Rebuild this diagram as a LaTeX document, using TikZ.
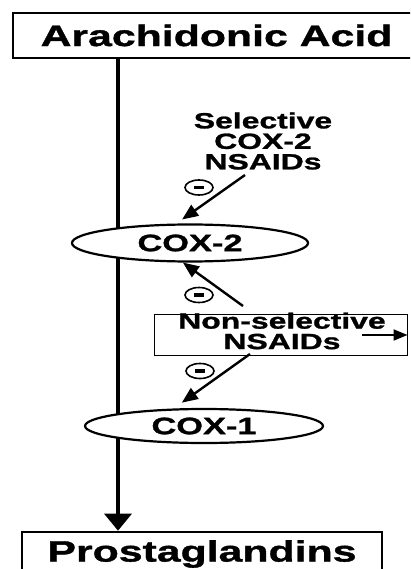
\documentclass[tikz,border=0pt]{standalone}
\usepackage{fontspec}
\newfontfamily\lblfont{Liberation Sans}[FakeStretch=1.45, BoldFeatures={FakeBold=1.2}]
\usetikzlibrary{arrows.meta,shapes.geometric}

\begin{document}
\begin{tikzpicture}[x=1pt, y=-1pt,
    box/.style={draw, rectangle, line width=2.6pt, inner sep=0pt,
        font=\lblfont\bfseries\fontsize{29.5}{30}\selectfont},
    enzyme/.style={draw, ellipse, line width=2.2pt, fill=white, inner sep=0pt,
        font=\lblfont\bfseries\fontsize{23.7}{24}\selectfont},
    drug/.style={align=center, inner sep=0pt,
        font=\lblfont\bfseries\fontsize{22}{20.5}\selectfont},
    inh/.style={-{Triangle[length=16pt,width=13pt]}, line width=2.4pt},
    minus/.style={draw, ellipse, line width=1.6pt, inner sep=0pt,
        minimum width=28pt, minimum height=15pt,
        path picture={\fill ([xshift=-5pt,yshift=-1.6pt]path picture bounding box.center)
            rectangle ([xshift=5pt,yshift=1.6pt]path picture bounding box.center);}}]

    \useasboundingbox (0,0) rectangle (410,569);
    \clip (0,0) rectangle (410,569);

    % Boxes at top and bottom
    \node[box, minimum width=407pt, minimum height=45pt] (acid) at (216.5,35.5) {Arachidonic Acid};
    \node[box, minimum width=360pt, minimum height=44pt] (pg) at (202,554) {Prostaglandins};

    % Main pathway
    \coordinate (stem) at (118,0);
    \draw[line width=3.5pt, -{Triangle[length=17pt,width=27pt]}] (acid.south -| stem) -- (pg.north -| stem);

    % Enzymes
    \node[enzyme, minimum width=236pt, minimum height=37pt] (cox2) at (190,243) {COX-2};
    \node[enzyme, minimum width=238pt, minimum height=34pt] (cox1) at (204,426) {COX-1};

    % Drugs
    \node[drug] (sel) at (263,141) {Selective\\COX-2\\NSAIDs};
    \node[draw, line width=1pt, inner sep=0pt, minimum width=253pt, minimum height=41pt] (nonsel) at (280.5,334.5) {};
    \node[drug] (nonseltxt) at (282,331) {Non-selective\\NSAIDs};

    % Inhibition arrows
    \coordinate (s1) at (245,175);
    \coordinate (s2) at (243,306);
    \coordinate (s3) at (250,354);
    \coordinate (s4) at (362,335);
    \draw[inh, shorten >=7pt] (s1) -- (cox2.125);
    \draw[inh] (s2) -- (cox2.250);
    \draw[inh, shorten >=10pt] (s3) -- (cox1.150);
    \draw[-{Triangle[length=14pt,width=11pt]}, line width=2pt] (s4) -- (s4 -| nonsel.east);

    \node[minus] (m1) at (199,187.5) {};
    \node[minus] (m2) at (199,295) {};
    \node[minus] (m3) at (200,371) {};

\end{tikzpicture}
\end{document}
